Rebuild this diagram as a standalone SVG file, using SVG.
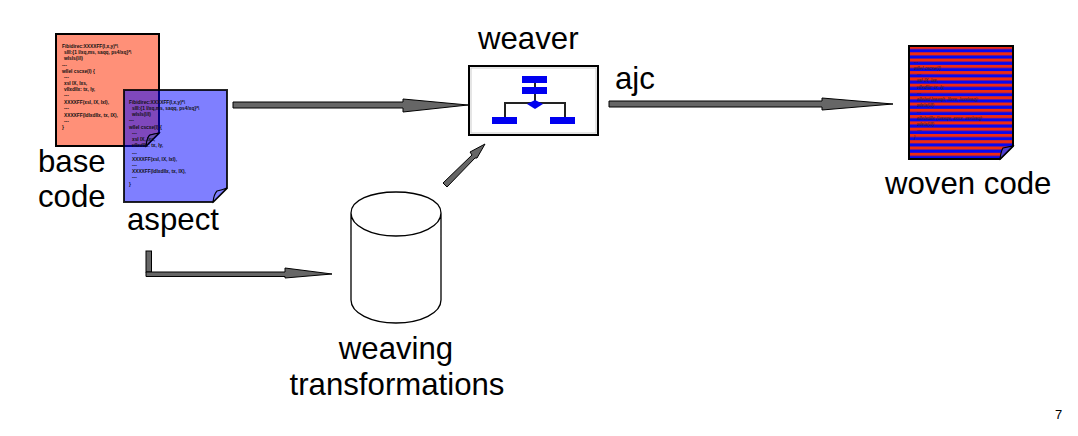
<svg xmlns="http://www.w3.org/2000/svg" width="1078" height="436" viewBox="0 0 1078 436">
<style>
.lbl{font-family:"Liberation Sans",Arial,sans-serif;font-size:31.2px;fill:#000}
.code{font-family:"Liberation Sans",Arial,sans-serif;font-size:4.8px;fill:#111;font-weight:bold}
.arr{fill:#666;stroke:#000;stroke-width:1}
.doc{stroke:#000;stroke-width:2}
.fold{stroke:#000;stroke-width:1.1}
.bl{fill:#0000f0}
</style>
<defs>
<pattern id="stripes" width="10" height="6.28" patternUnits="userSpaceOnUse" y="46">
<rect width="10" height="6.28" fill="#f02a10"/>
<rect y="3.1" width="10" height="3.18" fill="#0808f0"/>
</pattern>
</defs>
<rect width="1078" height="436" fill="#fff"/>
<g id="base-code">
<path class="doc" d="M56 34H159V133L146 146H56Z" fill="#ff9078"/>
<path class="fold" d="M146 146Q147 137 150 135Q154 134 159 133Z" fill="#ff9078"/>
<g class="code">
<text x="62" y="48">Fibidirec:XXXXFF(I,x,y)*\</text>
<text x="64" y="54">sIII:{1 I/xq,ms, saqq, ps4/xq}*\</text>
<text x="64" y="60">wIsIs(I/I)</text>
<text x="62" y="67">---</text>
<text x="62" y="73">wIIeI cscxe(I) {</text>
<text x="64" y="79">---</text>
<text x="64" y="85">xsI IX, Ixs,</text>
<text x="64" y="91">vIIxdIIx: tx, Iy,</text>
<text x="64" y="97">---</text>
<text x="64" y="104">XXXXFF(xsI, IX, IxI),</text>
<text x="64" y="110">---</text>
<text x="64" y="117">XXXXFF(IdIxdIIx, tx, IX),</text>
<text x="64" y="123">---</text>
<text x="62" y="129">}</text>
</g>
<text class="lbl" x="38" y="172">base</text>
<text class="lbl" x="38" y="207">code</text>
</g>
<g id="aspect">
<path class="doc" d="M124 90H227V188L213 202H124Z" fill="#0000ff" fill-opacity=".5" stroke-opacity=".85"/>
<path class="fold" d="M213 202Q214 194 217 191Q222 190 227 188Z" fill="#8080ff"/>
<path d="M146 146Q147 137 150 135Q154 134 159 133L146 146Z" fill="#6a50b8" stroke="#000" stroke-width="1.1"/>
<g class="code">
<text x="129" y="104">Fibidirec:XXXXFF(I,x,y)*\</text>
<text x="132" y="110">sIII:{1 I/xq,ms, saqq, ps4/xq}*\</text>
<text x="132" y="116">wIsIs(I/I)</text>
<text x="129" y="122">---</text>
<text x="129" y="129">wIIeI cscxe(I) {</text>
<text x="132" y="135">---</text>
<text x="132" y="141">xsI IX, Ixs,</text>
<text x="132" y="147">vIIxdIIx: tx, Iy,</text>
<text x="132" y="155">---</text>
<text x="132" y="161">XXXXFF(xsI, IX, IxI),</text>
<text x="132" y="167">---</text>
<text x="132" y="173">XXXXFF(IdIxdIIx, tx, IX),</text>
<text x="132" y="179">---</text>
<text x="129" y="186">}</text>
</g>
<text class="lbl" x="127" y="230">aspect</text>
</g>
<g id="weaver">
<rect x="469" y="66" width="129" height="69" fill="#fff" stroke="#000" stroke-width="2"/>
<rect x="471" y="68" width="125" height="65" fill="none" stroke="#ccc" stroke-width="1"/>
<path d="M535 78V104M505 118V103H565V118" fill="none" stroke="#222" stroke-width="2"/>
<rect class="bl" x="522" y="76" width="25" height="7"/>
<rect class="bl" x="522" y="87" width="25" height="7"/>
<path class="bl" d="M527 104L535 100L543 104L535 109Z"/>
<rect class="bl" x="492" y="117" width="25" height="7"/>
<rect class="bl" x="550" y="117" width="25" height="7"/>
<text class="lbl" x="478" y="49">weaver</text>
</g>
<g id="woven-code">
<path class="doc" d="M909 46H1013V146L1000 159H909Z" fill="url(#stripes)"/>
<path class="fold" d="M1000 159Q1001 151 1003 148Q1008 147 1013 146Z" fill="#5040d0"/>
<g class="code" style="font-size:4.6px;fill:#222;font-weight:normal">
<text x="914" y="64">---</text>
<text x="914" y="70">wIIeI cscxe(I)</text>
<text x="917" y="76">---</text>
<text x="917" y="82">xsI IX, Ixs,</text>
<text x="917" y="89">vIIxdIIx: tx, Iy,</text>
<text x="917" y="95">---</text>
<text x="917" y="101">sIIxIxd Ixsxq(t, Ifxxs, Ixxxlxsq);</text>
<text x="917" y="107">wIsIs(I/I)</text>
<text x="917" y="114">---</text>
<text x="917" y="120">sIIxIxdIIx (Ixsxqs, sxxx, xsxlxsq);</text>
<text x="917" y="126">wIsIs(I/I)</text>
<text x="917" y="132">---</text>
<text x="914" y="139">}</text>
</g>
<text class="lbl" x="885" y="194">woven code</text>
</g>
<g id="weaving-transformations">
<path d="M351 213V300C351 313 371 323 396 323S441 313 441 300V213C441 200 421 192 396 192S351 200 351 213C351 226 371 236 396 236S441 226 441 213" fill="#fff" stroke="#000" stroke-width="1.3"/>
<text class="lbl" x="396" y="359" text-anchor="middle">weaving</text>
<text class="lbl" x="397" y="395" text-anchor="middle">transformations</text>
</g>
<g id="connectors">
<path class="arr" d="M233 102H403V99L468 105L403 112V108H233Z"/>
<path class="arr" d="M609 101H822V98L893 104L822 110V107H609Z"/>
<rect class="arr" x="146" y="251" width="5.5" height="21"/>
<path class="arr" d="M146 272H285V268L332 274L285 278V276.500H146Z"/>
<path class="arr" d="M443 183L472 155L470 152L485 144L477 158L475 158L447 187Z"/>
</g>
<text id="page" x="1055" y="419" style="font-family:'Liberation Sans',Arial,sans-serif;font-size:13px">7</text>
<text class="lbl" x="615" y="89">ajc</text>
</svg>
